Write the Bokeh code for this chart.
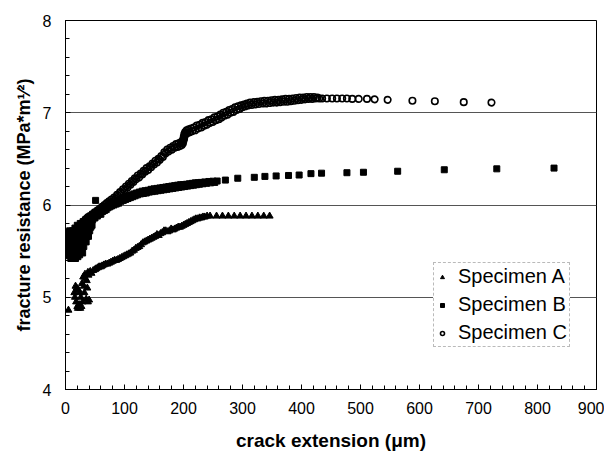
from bokeh.plotting import figure
from bokeh.models import SingleIntervalTicker, Range1d, Legend, LegendItem
from bokeh.embed import file_html
from bokeh.resources import INLINE

# ---------------- data ----------------
a_x = [5, 15, 17, 18, 20, 22, 23, 25, 26, 28, 29, 30, 32, 33, 35, 36, 38, 40, 38, 42,
       47, 52, 57, 62, 68, 74, 80, 86, 92, 98, 104, 110, 116, 122, 128, 134, 140, 146,
       152, 158, 164, 170, 176, 182, 188, 194, 200, 206, 212, 218, 224, 230, 236, 245,
       256, 266, 276, 286, 296, 306, 316, 326, 336, 346,
       16, 19, 21, 24, 27, 31, 34, 37, 39, 44, 50, 55, 60, 65, 71, 77, 83, 89, 95, 101,
       107, 113, 119, 125, 131, 137, 143, 149, 155, 161, 167, 173, 179, 185, 191, 197,
       203, 209, 215, 221, 227, 233, 240]
a_y = [4.86, 5.05, 5.12, 4.95, 4.90, 5.08, 4.92, 4.88, 5.00, 5.15, 4.95, 5.22, 5.05, 5.25,
       4.98, 5.18, 4.95, 4.97, 5.27, 5.28, 5.29, 5.31, 5.33, 5.34, 5.36, 5.37, 5.39, 5.40,
       5.42, 5.44, 5.46, 5.48, 5.51, 5.54, 5.57, 5.60, 5.62, 5.64, 5.66, 5.67, 5.70, 5.72,
       5.72, 5.73, 5.75, 5.76, 5.78, 5.80, 5.82, 5.84, 5.85, 5.86, 5.87, 5.88, 5.88, 5.88,
       5.88, 5.88, 5.88, 5.88, 5.88, 5.88, 5.88, 5.88,
       5.00, 5.10, 4.88, 5.05, 4.90, 5.12, 5.20, 5.10, 5.24, 5.26, 5.30, 5.32, 5.33, 5.35,
       5.36, 5.38, 5.40, 5.41, 5.43, 5.45, 5.47, 5.50, 5.53, 5.55, 5.59, 5.61, 5.63, 5.65,
       5.68, 5.69, 5.72, 5.71, 5.74, 5.74, 5.76, 5.77, 5.79, 5.81, 5.83, 5.85, 5.86, 5.87,
       5.88]

b_x = [2, 4, 5, 6, 7, 8, 9, 10, 11, 12, 13, 14, 15, 16, 17, 18, 19, 20, 21, 22, 23, 24,
       25, 26, 27, 28, 29, 30, 31, 32, 34, 35, 36, 38, 40, 42, 44, 46, 48, 50, 51, 53, 56,
       59, 62, 65, 68, 71, 74, 77, 80, 84, 88, 92, 96, 100, 104, 108, 112, 116, 120, 125,
       130, 135, 140, 145, 150, 155, 160, 165, 170, 175, 180, 185, 190, 195, 200, 205, 210,
       215, 220, 225, 230, 236, 243, 250, 257, 271, 292, 320, 338, 357, 378, 396, 416, 434,
       477, 505, 563, 642, 731, 828,
       3, 5, 7, 9, 11, 13, 15, 17, 19, 21, 23, 25, 27, 29, 31, 33, 35, 37, 39, 41, 43, 45,
       42, 46, 50, 54, 57, 60, 63, 66, 69, 72, 75, 78, 82, 86, 90, 94, 98, 102, 106, 110,
       114, 118, 122, 127, 132, 137, 142, 147, 152, 157, 162, 167, 172, 177, 182, 187, 192,
       197, 202, 207, 212, 217, 222, 227, 233, 239, 246, 253]
b_y = [5.58, 5.65, 5.52, 5.70, 5.60, 5.48, 5.66, 5.55, 5.45, 5.72, 5.50, 5.62, 5.44, 5.75,
       5.55, 5.68, 5.45, 5.78, 5.60, 5.50, 5.72, 5.46, 5.80, 5.65, 5.52, 5.75, 5.58, 5.82,
       5.68, 5.62, 5.84, 5.74, 5.66, 5.86, 5.78, 5.88, 5.82, 5.90, 5.86, 5.92, 6.05, 5.90,
       5.94, 5.93, 5.96, 5.97, 5.98, 5.99, 6.00, 6.01, 6.02, 6.03, 6.04, 6.06, 6.07, 6.08,
       6.09, 6.10, 6.11, 6.12, 6.13, 6.14, 6.15, 6.155, 6.16, 6.17, 6.175, 6.18, 6.185, 6.19,
       6.195, 6.20, 6.205, 6.21, 6.215, 6.22, 6.222, 6.225, 6.23, 6.235, 6.24, 6.242, 6.245,
       6.25, 6.255, 6.258, 6.26, 6.27, 6.29, 6.30, 6.31, 6.315, 6.32, 6.325, 6.34, 6.345,
       6.35, 6.355, 6.366, 6.382, 6.392, 6.40,
       5.50, 5.45, 5.72, 5.42, 5.66, 5.42, 5.58, 5.42, 5.62, 5.44, 5.55, 5.50, 5.62, 5.48,
       5.55, 5.72, 5.60, 5.78, 5.66, 5.72, 5.76, 5.78,
       5.80, 5.84, 5.86, 5.88, 5.90, 5.90, 5.93, 5.94, 5.95, 5.97, 5.98, 5.99, 6.00, 6.01,
       6.02, 6.04, 6.05, 6.06, 6.07, 6.08, 6.09, 6.10, 6.11, 6.12, 6.125, 6.13, 6.14, 6.145,
       6.15, 6.155, 6.16, 6.165, 6.17, 6.175, 6.18, 6.185, 6.19, 6.195, 6.20, 6.205, 6.21,
       6.215, 6.22, 6.225, 6.23, 6.235, 6.24, 6.245]

c_x = [0, 1, 2, 3, 4, 5, 6, 7, 8, 9, 10, 11.5, 13, 14.5, 16, 17.5, 19, 20.5, 22, 23.5, 25,
       26.5, 28, 29.5, 31, 32.5, 34, 35.5, 37, 38.5, 40, 42, 44, 46, 48, 50, 52, 54, 56, 58,
       60, 62, 64, 66, 68, 70, 72, 74, 76, 78, 80, 82.5, 85, 87.5, 90, 92.5, 95, 97.5, 100,
       102.5, 105, 107.5, 110, 112.5, 115, 117.5, 120, 122.5, 125, 127.5, 130, 132.5, 135,
       137.5, 140, 142.5, 145, 147.5, 150, 152.5, 155, 157.5, 160, 162.5, 165, 167.5, 170,
       172.5, 175, 177.5, 180, 182.5, 185, 187.5, 190, 192, 194, 195.5, 197, 198, 199,
       199.5, 200, 200.5, 201, 201.5, 202, 203, 204, 205.5, 207, 209, 211, 213, 215, 217.5,
       220, 222.5, 225, 227.5, 230, 232.5, 235, 237.5, 240, 242.5, 245, 247.5, 250, 252.5,
       255, 257.5, 260, 262.5, 265, 267.5, 270, 272.5, 275, 277.5, 280, 282.5, 285, 287.5,
       290, 292.5, 295, 297.5, 300, 302.5, 305, 307.5, 310, 313, 316, 319, 322, 325, 328,
       331, 334, 337, 340, 343, 346, 349, 352, 355, 358, 361, 364, 367, 370, 373, 376, 379,
       382, 385, 388, 391, 394, 397, 400, 403, 406, 409, 412, 415, 418, 421, 424, 427, 430,
       435, 443, 452, 460, 469, 477, 486, 497, 511, 524, 546, 588, 626, 675, 722]
c_y = [5.55, 5.62, 5.60, 5.66, 5.58, 5.64, 5.62, 5.67, 5.60, 5.68, 5.64, 5.69, 5.66, 5.71,
       5.68, 5.73, 5.70, 5.75, 5.72, 5.77, 5.74, 5.79, 5.76, 5.81, 5.78, 5.83, 5.80, 5.85,
       5.82, 5.87, 5.84, 5.88, 5.86, 5.90, 5.88, 5.92, 5.90, 5.94, 5.92, 5.96, 5.94, 5.98,
       5.96, 6.00, 5.98, 6.02, 6.00, 6.04, 6.02, 6.06, 6.04, 6.08, 6.07, 6.11, 6.10, 6.14,
       6.13, 6.17, 6.16, 6.20, 6.19, 6.23, 6.22, 6.26, 6.25, 6.29, 6.28, 6.32, 6.30, 6.34,
       6.33, 6.37, 6.36, 6.40, 6.38, 6.42, 6.41, 6.45, 6.44, 6.48, 6.46, 6.50, 6.49, 6.53,
       6.52, 6.57, 6.56, 6.60, 6.58, 6.62, 6.60, 6.64, 6.62, 6.66, 6.63, 6.67, 6.64, 6.68,
       6.65, 6.69, 6.67, 6.71, 6.70, 6.74, 6.72, 6.77, 6.75, 6.79, 6.77, 6.81, 6.78, 6.82,
       6.79, 6.83, 6.80, 6.84, 6.81, 6.86, 6.83, 6.87, 6.84, 6.89, 6.86, 6.90, 6.87, 6.92,
       6.89, 6.93, 6.90, 6.95, 6.92, 6.96, 6.93, 6.98, 6.95, 7.00, 6.97, 7.01, 6.98, 7.03,
       7.00, 7.04, 7.01, 7.06, 7.03, 7.07, 7.04, 7.08, 7.06, 7.09, 7.07, 7.10, 7.08, 7.11,
       7.085, 7.115, 7.09, 7.12, 7.095, 7.125, 7.10, 7.13, 7.10, 7.13, 7.105, 7.135, 7.11,
       7.14, 7.11, 7.14, 7.115, 7.145, 7.12, 7.15, 7.12, 7.15, 7.125, 7.155, 7.13, 7.16,
       7.135, 7.165, 7.14, 7.165, 7.145, 7.17, 7.15, 7.17, 7.15, 7.17, 7.155, 7.165, 7.155,
       7.155, 7.155, 7.155, 7.155, 7.155, 7.155, 7.15, 7.15, 7.15, 7.145, 7.14, 7.13, 7.125,
       7.115, 7.11]

series_names = ["Specimen A", "Specimen B", "Specimen C"]
x_label = "crack extension (\u03bcm)"
y_label = "fracture resistance (MPa*m\u00b9\u2044\u00b2)"

FONT = "Liberation Sans"

p = figure(width=604, height=458, output_backend="svg", toolbar_location=None,
           x_range=Range1d(0, 900), y_range=Range1d(4, 8),
           min_border_left=65, min_border_right=8, min_border_top=20,
           min_border_bottom=69)
p.background_fill_color = "white"
p.border_fill_color = "white"
p.outline_line_color = "black"
p.outline_line_width = 1

# axes
p.xaxis.ticker = SingleIntervalTicker(interval=100, num_minor_ticks=5)
p.yaxis.ticker = SingleIntervalTicker(interval=1, num_minor_ticks=5)
for ax in (p.xaxis[0], p.yaxis[0]):
    ax.axis_line_color = "black"
    ax.major_tick_line_color = "black"
    ax.minor_tick_line_color = "black"
    ax.major_tick_in = 5
    ax.major_tick_out = 0
    ax.minor_tick_in = 4
    ax.minor_tick_out = 0
    ax.major_label_text_font = FONT
    ax.major_label_text_font_size = "16px"
    ax.major_label_text_color = "black"
    ax.axis_label_text_font = FONT
    ax.axis_label_text_font_style = "bold"
    ax.axis_label_text_color = "black"
p.xaxis.axis_label = x_label
p.yaxis.axis_label = y_label
p.xaxis.axis_label_text_font_size = "19px"
p.yaxis.axis_label_text_font_size = "18px"
p.xaxis.major_label_standoff = 12
p.yaxis.major_label_standoff = 14
p.xaxis.axis_label_standoff = 13
p.yaxis.axis_label_standoff = 6

p.xgrid.grid_line_color = None
p.ygrid.ticker = SingleIntervalTicker(interval=1)
p.ygrid.grid_line_color = "#555555"
p.ygrid.grid_line_width = 1

ra = p.scatter(a_x, a_y, marker="triangle", size=7, color="black")
rb = p.scatter(b_x, b_y, marker="square", size=6, color="black")
rc = p.scatter(c_x, c_y, marker="circle", size=6.5, fill_color=None,
               line_color="black", line_width=1.6)

legend = Legend(items=[LegendItem(label=series_names[0], renderers=[ra]),
                       LegendItem(label=series_names[1], renderers=[rb]),
                       LegendItem(label=series_names[2], renderers=[rc])],
                location=(368, 42))
legend.label_text_font = FONT
legend.label_text_font_size = "20px"
legend.label_text_color = "black"
legend.glyph_width = 12
legend.glyph_height = 10
legend.label_height = 20
legend.label_standoff = 10
legend.spacing = 5
legend.padding = 2
legend.margin = 0
legend.border_line_color = "#777777"
legend.border_line_dash = "2 2"
legend.border_line_width = 1
legend.background_fill_color = "white"
legend.background_fill_alpha = 1
p.add_layout(legend, "center")

open("out.html", "w").write(file_html(p, INLINE))
